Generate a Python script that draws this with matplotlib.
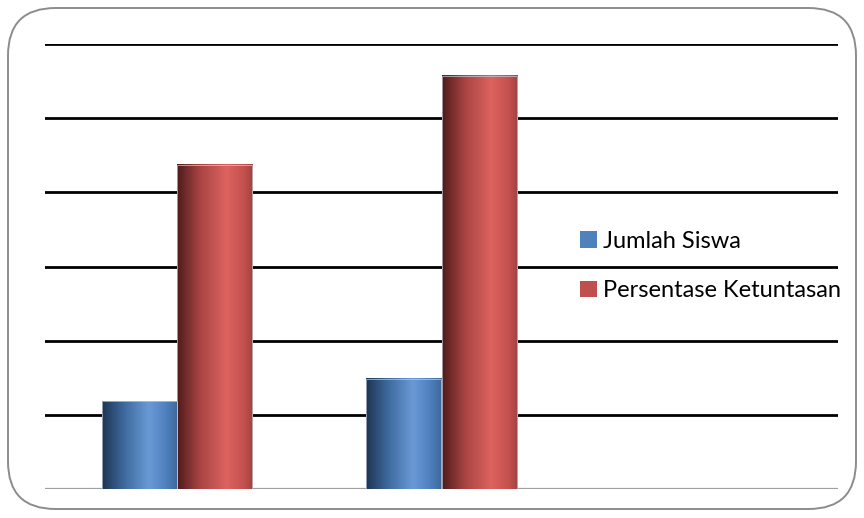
import numpy as np
import matplotlib.pyplot as plt
from matplotlib.colors import LinearSegmentedColormap
from matplotlib.patches import FancyBboxPatch, Patch

# data (third category slot is empty in the original chart)
categories = ["1", "2", "3"]
jumlah_siswa = [17.7, 22.3, np.nan]
persentase = [65.6, 83.6, np.nan]
series_names = ["Jumlah Siswa", "Persentase Ketuntasan"]

plt.rcParams["font.family"] = ["Lato", "DejaVu Sans"]

blue_cmap = LinearSegmentedColormap.from_list(
    "blue_cyl", [(0.0, "#1e3553"), (0.3, "#3f6b9f"), (0.62, "#6a9ad6"), (0.85, "#4f80bd"), (1.0, "#3d6799")])
red_cmap = LinearSegmentedColormap.from_list(
    "red_cyl", [(0.0, "#4e1b1b"), (0.3, "#a84442"), (0.65, "#dc6360"), (0.88, "#c4514e"), (1.0, "#a24240")])

fig = plt.figure(figsize=(8.64, 5.18), dpi=100)

# rounded outer frame
frame = FancyBboxPatch((8 / 864, 9 / 518), 848 / 864, 501 / 518,
                       boxstyle="round,pad=0,rounding_size=0.055",
                       transform=fig.transFigure, facecolor="none",
                       edgecolor="#8c8c8c", linewidth=1.4, mutation_aspect=864 / 518)
fig.patches.append(frame)

ax = fig.add_axes([45 / 864, 1 - 489 / 518, 793 / 864, 445 / 518])
x = np.arange(len(categories))
w = 0.284

ax.set_xlim(-0.5, 2.5)
ax.set_ylim(0, 90)
for yv in np.arange(15, 91, 15):
    ax.axhline(yv, color="black", lw=2.0, zorder=1)
ax.axhline(0, color="#a0a0a0", lw=1.6, zorder=1)

grad = np.linspace(0, 1, 256).reshape(1, -1)
for vals, off, cmap in [(jumlah_siswa, -w / 2, blue_cmap), (persentase, w / 2, red_cmap)]:
    bars = ax.bar(x + off, vals, w, color="none", edgecolor="#c4ccd8", linewidth=0.5, zorder=3)
    for b in bars:
        h = b.get_height()
        if np.isnan(h):
            continue
        x0 = b.get_x()
        ax.imshow(grad, cmap=cmap, aspect="auto", extent=(x0, x0 + b.get_width(), 0, h),
                  zorder=2, interpolation="bicubic")

ax.set_xlim(-0.5, 2.5)
ax.set_ylim(0, 90)
ax.set_xticks([])
ax.set_yticks([])
for s in ax.spines.values():
    s.set_visible(False)

handles = [Patch(facecolor="#4f81bd"), Patch(facecolor="#c0504d")]
ax.legend(handles, series_names, loc="center left", bbox_to_anchor=(571 / 864, 1 - 266 / 518),
          bbox_transform=fig.transFigure, frameon=False, fontsize=17,
          handlelength=0.7, handleheight=0.7, handletextpad=0.25, labelspacing=1.2,
          borderaxespad=0)

fig.savefig("out.png", dpi=100)
